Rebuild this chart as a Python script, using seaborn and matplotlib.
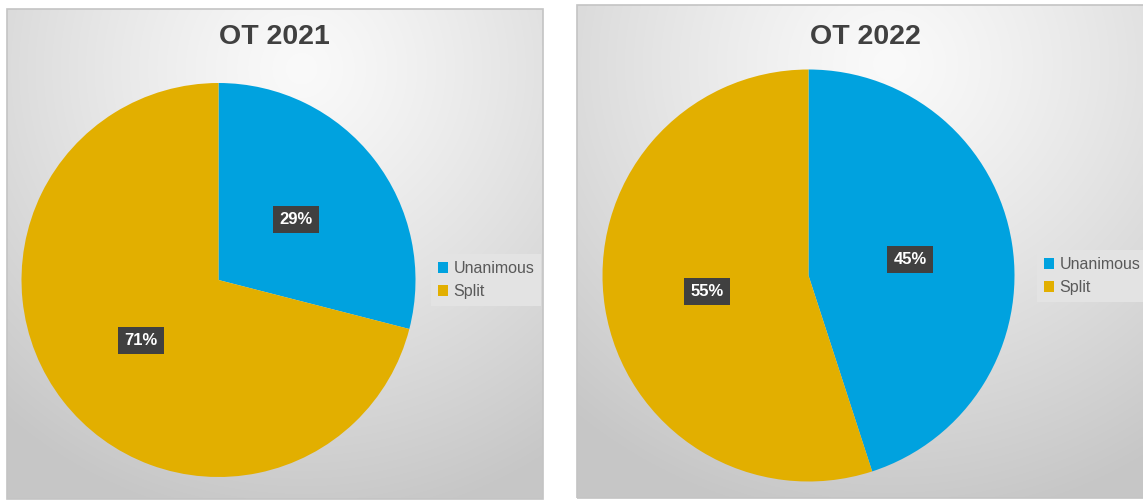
import numpy as np
import matplotlib
matplotlib.use("Agg")
import matplotlib.pyplot as plt
import seaborn as sns
from matplotlib.patches import Rectangle, Patch

sns.set_theme(style="white")
plt.rcParams['font.family'] = ['Liberation Sans', 'DejaVu Sans']

# ---- data ----
categories = ["Unanimous", "Split"]
values_2021 = [29, 71]
values_2022 = [45, 55]
titles = ["OT 2021", "OT 2022"]
colors = ["#00A2DF", "#E2AF00"]

W, H = 1143, 501
fig = plt.figure(figsize=(W / 100, H / 100), dpi=100)
fig.patch.set_facecolor("white")


def fx(px):
    return px / W


def fy(py):
    return 1 - py / H


def panel(x0, y0, x1, y1):
    ax = fig.add_axes([fx(x0), fy(y1), fx(x1 - x0), (y1 - y0) / H])
    ny, nx = 200, 200
    yy, xx = np.mgrid[0:1:ny * 1j, 0:1:nx * 1j]
    d = np.sqrt(((xx - 0.55) / 1.0) ** 2 + ((yy - 0.12) / 1.1) ** 2)
    t = np.clip(d / 0.85, 0, 1) ** 1.2
    c0, c1 = 0.98, 0.78
    img = c0 + (c1 - c0) * t
    ax.imshow(np.dstack([img, img, img]), extent=[0, 1, 1, 0], aspect="auto",
              interpolation="bilinear")
    ax.set_xlim(0, 1)
    ax.set_ylim(1, 0)
    ax.set_axis_off()
    ax.add_patch(Rectangle((0, 0), 1, 1, fill=False, edgecolor="#c4c4c4",
                           linewidth=1.2, transform=ax.transAxes, clip_on=False))
    return ax


panel(7, 9, 543, 499)
panel(577, 5, 1146, 498)


def draw_pie(vals, cx, cy, r, title, tx, legend_xy):
    ax = fig.add_axes([fx(cx - r), fy(cy + r), 2 * r / W, 2 * r / H])
    wedges, texts, autotexts = ax.pie(
        vals, colors=colors, startangle=90, counterclock=False,
        autopct="%.0f%%", pctdistance=0.5,
        wedgeprops=dict(linewidth=0),
        textprops=dict(color="white", fontsize=12, fontweight="bold"))
    for t in autotexts:
        t.set_bbox(dict(boxstyle="square,pad=0.38", facecolor="#404040",
                        edgecolor="none"))
    ax.set_xlim(-1, 1)
    ax.set_ylim(-1, 1)
    ax.set_axis_off()
    fig.text(fx(tx), fy(37), title, ha="center", va="center", fontsize=20.5,
             fontweight="bold", color="#404040")
    handles = [Patch(facecolor=c, edgecolor="none") for c in colors]
    leg = fig.legend(handles, categories, loc="upper left",
                     bbox_to_anchor=(fx(legend_xy[0]), fy(legend_xy[1])),
                     fontsize=11.5, frameon=True, fancybox=False,
                     handlelength=0.6, handleheight=0.6, handletextpad=0.35,
                     labelspacing=0.5, borderpad=0.45, borderaxespad=0)
    fr = leg.get_frame()
    fr.set_facecolor("#e3e3e3")
    fr.set_edgecolor("none")
    fr.set_alpha(1)
    for t in leg.get_texts():
        t.set_color("#595959")


draw_pie(values_2021, 218.5, 280, 197, titles[0], 274, (431, 254))
draw_pie(values_2022, 808.5, 275.5, 206, titles[1], 865, (1037, 250))

fig.savefig("out.png", dpi=100)
